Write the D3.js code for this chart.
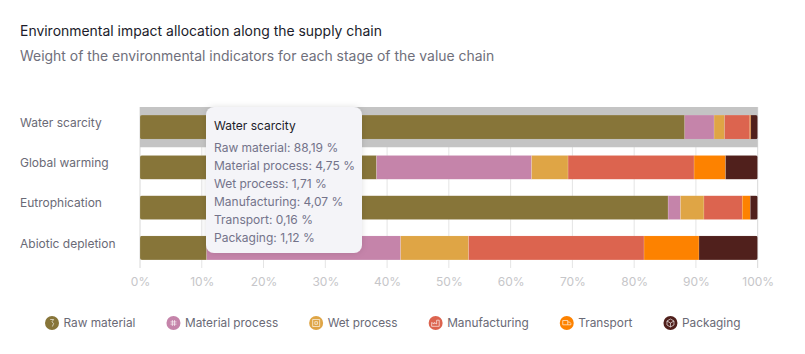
<!DOCTYPE html>
<html>
<head>
<meta charset="utf-8">
<script src="https://cdn.jsdelivr.net/npm/d3@7"></script>
<style>
  html, body { margin: 0; padding: 0; background: #fff; }
  svg { display: block; font-family: Inter, sans-serif; }
</style>
</head>
<body>
<div id="chart"></div>
<script>
const titleText = 'Environmental impact allocation along the supply chain'
const subtitleText = 'Weight of the environmental indicators for each stage of the value chain'
const categories = ['Water scarcity', 'Global warming', 'Eutrophication', 'Abiotic depletion']
const stages = ['Raw material', 'Material process', 'Wet process', 'Manufacturing', 'Transport', 'Packaging']
const rawMaterial = [88.19, 38.3, 85.5, 10.8]
const materialProcess = [4.75, 25.1, 2.0, 31.4]
const wetProcess = [1.71, 5.9, 3.8, 11.0]
const manufacturing = [4.07, 20.4, 6.2, 28.4]
const transport = [0.16, 5.1, 1.3, 8.9]
const packaging = [1.12, 5.2, 1.2, 9.5]
const stageValues = [rawMaterial, materialProcess, wetProcess, manufacturing, transport, packaging]
const colors = ['#877539', '#c584aa', '#dfa545', '#dc644f', '#fd8200', '#50201c']
const ticks = [0, 10, 20, 30, 40, 50, 60, 70, 80, 90, 100]
const tooltipLabels = ['88,19', '4,75', '1,71', '4,07', '0,16', '1,12']

// little glyphs inside the legend dots, centred on 0,0
const icons = [
  'M-1.8-3.5h3.4l-1.6 2.3 1.6 1.7-1.2 3',
  'M-3-1.1h6M-3 1.1h6M-1.1-3v6M1.1-3v6',
  'M-3.5-3.5h7v7h-7zM-1.3-1.3h2.6v2.6h-2.6z',
  'M-4 3.3v-3.8l2.5 1.5v-1.5l2.5 1.5v-3.8h2.6v6.1z',
  'M-4-2.5h5v4.3h-5zM1-1h1.8l1.3 1.4v1.4h-3.1',
  'M0-4l3.5 2v4l-3.5 2-3.5-2v-4zM-3.5-2l3.5 2 3.5-2M0 0v4'
]

const width = 805
const height = 354
const svg = d3.select('#chart').append('svg').attr('width', width).attr('height', height)
const defs = svg.append('defs')

svg.append('text').attr('x', 20).attr('y', 35.5).attr('font-size', 13.95).attr('fill', '#1c1c2b').text(titleText)
svg.append('text').attr('x', 20).attr('y', 60.7).attr('font-size', 13.95).attr('fill', '#6f6f7b').text(subtitleText)

const x = d3.scaleLinear().domain([0, 100]).range([140, 757.7])
const y = d3.scaleBand().domain(categories).range([107, 268]).paddingInner(0.4).paddingOuter(0.2)

// grid + ticks
const axis = svg.append('g').attr('transform', 'translate(0,268)')
  .call(d3.axisBottom(x).tickValues(ticks).tickFormat((d) => d + '%').tickSize(0).tickPadding(9))
axis.select('.domain').remove()
axis.selectAll('text').attr('font-size', 12).attr('font-family', 'Inter, sans-serif').attr('fill', '#c6c6c9')

svg.append('g').selectAll('line').data(ticks).join('line')
  .attr('x1', (d) => x(d)).attr('x2', (d) => x(d))
  .attr('y1', 107).attr('y2', 268)
  .attr('stroke', (d) => (d === 0 || d === 100 ? '#d8d8d8' : '#e4e4e4'))

// hovered band
svg.append('rect')
  .attr('x', x(0)).attr('width', x(100) - x(0))
  .attr('y', 107).attr('height', y.step())
  .attr('fill', '#c4c4c4')

// category labels
svg.append('g').selectAll('text').data(categories).join('text')
  .attr('x', 20)
  .attr('y', (d) => y(d) + y.bandwidth() / 2 - 4.5)
  .attr('dy', '0.35em')
  .attr('font-size', 12)
  .attr('fill', '#6a6a76')
  .text((d) => d)

// rounded ends of each row
defs.selectAll('clipPath').data(categories).join('clipPath')
  .attr('id', (d, i) => 'row-' + i)
  .append('rect')
  .attr('x', x(0))
  .attr('y', (d) => y(d))
  .attr('width', x(100) - x(0))
  .attr('height', y.bandwidth())
  .attr('rx', 2)

// stacked bars
const rows = categories.map((c, i) => {
  const row = { category: c }
  stages.forEach((s, j) => { row[s] = stageValues[j][i] })
  return row
})
const series = d3.stack().keys(stages)(rows)
svg.append('g').selectAll('g').data(series).join('g')
  .attr('fill', (d, i) => colors[i])
  .selectAll('rect').data((d) => d).join('rect')
  .attr('x', (d) => x(d[0]))
  .attr('y', (d) => y(d.data.category))
  .attr('width', (d) => x(d[1]) - x(d[0]))
  .attr('height', y.bandwidth())
  .attr('clip-path', (d) => `url(#row-${categories.indexOf(d.data.category)})`)
  .attr('stroke', '#fff')
  .attr('stroke-opacity', 0.25)
  .attr('stroke-width', 0.6)

// tooltip
const shadow = defs.append('filter').attr('id', 'tip-shadow')
  .attr('x', '-10%').attr('y', '-10%').attr('width', '120%').attr('height', '120%')
shadow.append('feDropShadow').attr('dx', 0).attr('dy', 0).attr('stdDeviation', 3)
  .attr('flood-color', '#000').attr('flood-opacity', 0.12)
const tip = svg.append('g').attr('transform', 'translate(206,107)')
tip.append('rect').attr('width', 156).attr('height', 146).attr('rx', 8)
  .attr('fill', '#f4f4f8').attr('filter', 'url(#tip-shadow)')
tip.append('text').attr('x', 8).attr('y', 23).attr('font-size', 12).attr('fill', '#1c1c2b').text(categories[0])
tip.selectAll('text.row').data(stages).join('text')
  .attr('class', 'row')
  .attr('x', 8)
  .attr('y', (d, i) => 45 + i * 18)
  .attr('font-size', 12)
  .attr('fill', '#73738a')
  .text((d, i) => d + ': ' + tooltipLabels[i] + ' %')

// legend
const legend = svg.append('g')
let legendX = 45
stages.forEach((s, i) => {
  const item = legend.append('g').attr('transform', `translate(${legendX},323)`)
  item.append('circle').attr('cx', 7).attr('r', 7).attr('fill', colors[i])
  item.append('path').attr('transform', 'translate(7,0)').attr('d', icons[i])
    .attr('fill', 'none').attr('stroke', '#fff').attr('stroke-opacity', 0.7).attr('stroke-width', 0.9)
  const label = item.append('text').attr('x', 18.5).attr('dy', '0.35em')
    .attr('font-size', 11.85).attr('fill', '#6a6a76').text(s)
  legendX += 18.5 + label.node().getComputedTextLength() + 31
})
</script>
</body>
</html>
